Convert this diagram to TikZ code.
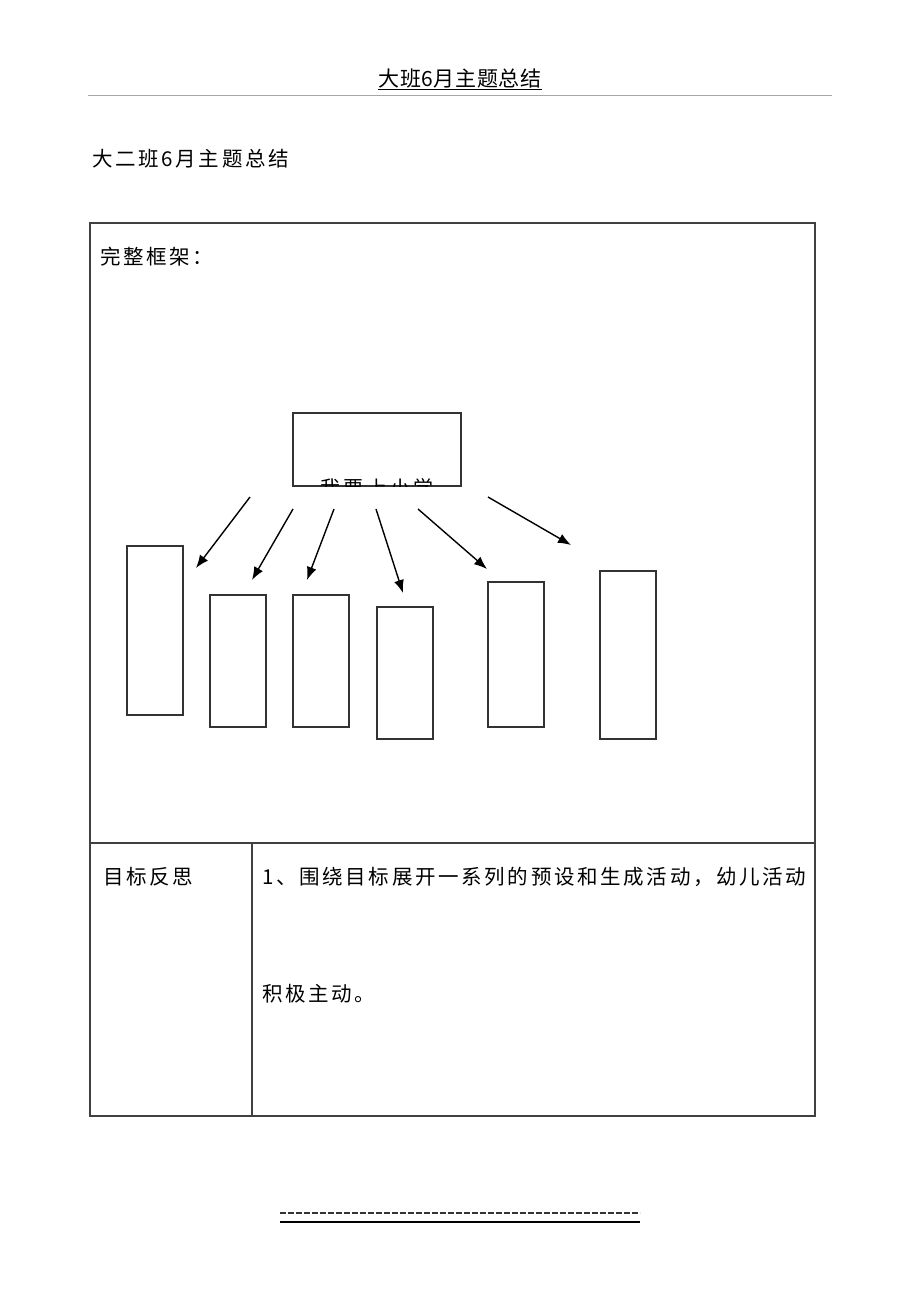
\documentclass[tikz,border=0pt]{standalone}
\usepackage{fontspec}
\setmainfont{Noto Sans CJK SC}
\usetikzlibrary{arrows.meta}

\begin{document}
\begin{tikzpicture}[x=1pt, y=-1pt, >={Latex[length=13pt, width=10pt]},
	txt/.style={anchor=base west, inner sep=0pt, font=\fontsize{20.5}{24}\selectfont\addfontfeature{LetterSpace=13}},
	frame/.style={draw=black!75, line width=1.2pt},
	leaf/.style={draw=black!80, line width=1.5pt, inner sep=0pt, minimum width=56pt, anchor=north west}]
	\useasboundingbox (0, 0) rectangle (920, 1302);
	% page head
	\node[txt, anchor=base, font=\fontsize{21}{24}\selectfont\addfontfeature{LetterSpace=3}] (hdr) at (460, 86) {大班6月主题总结};
	\draw[line width=0.8pt] ([yshift=-3pt]hdr.base west) -- ([yshift=-3pt]hdr.base east);
	\draw[black!35, line width=1pt] (88, 95) -- (832, 95);
	\node[txt] (title) at (92, 166) {大二班6月主题总结};
	% table
	\draw[frame] (90, 223) rectangle (815, 1116);
	\draw[frame] (90, 843) -- (815, 843);
	\draw[frame] (252, 843) -- (252, 1116);
	\node[txt] (kuangjia) at (100, 264) {完整框架：};
	\node[txt] (fansi) at (103, 884) {目标反思};
	\node[txt] (line1) at (262, 884) {1、围绕目标展开一系列的预设和生成活动，幼儿活动};
	\node[txt] (line2) at (262, 1001) {积极主动。};
	% frame diagram
	\node[leaf, minimum width=168pt, minimum height=73pt] (root) at (292, 412) {};
	\begin{scope}
		\clip (root.north west) rectangle (root.south east);
		\node[txt, anchor=base, font=\fontsize{20}{24}\selectfont\addfontfeature{LetterSpace=16}] (rname) at (377, 495) {我要上小学};
	\end{scope}
	\node[leaf, minimum height=169pt] (b1) at (126, 545) {};
	\node[leaf, minimum height=132pt] (b2) at (209, 594) {};
	\node[leaf, minimum height=132pt] (b3) at (292, 594) {};
	\node[leaf, minimum height=132pt] (b4) at (376, 606) {};
	\node[leaf, minimum height=145pt] (b5) at (487, 581) {};
	\node[leaf, minimum height=168pt] (b6) at (599, 570) {};
	\coordinate (s1) at (250, 497); \coordinate (e1) at (196, 568);
	\coordinate (s2) at (293, 509); \coordinate (e2) at (252, 580);
	\coordinate (s3) at (334, 509); \coordinate (e3) at (307, 580);
	\coordinate (s4) at (376, 509); \coordinate (e4) at (403, 593);
	\coordinate (s5) at (418, 509); \coordinate (e5) at (487, 569);
	\coordinate (s6) at (488, 497); \coordinate (e6) at (571, 545);
	\foreach \i in {1,...,6}
		\draw[->, line width=1.4pt] (s\i) -- (e\i);
	% page foot
	\draw[black!80, line width=1.5pt, dash pattern=on 5.5pt off 2.5pt] (280, 1213) -- (640, 1213);
	\draw[line width=1.2pt] (280, 1222) -- (640, 1222);
\end{tikzpicture}
\end{document}
